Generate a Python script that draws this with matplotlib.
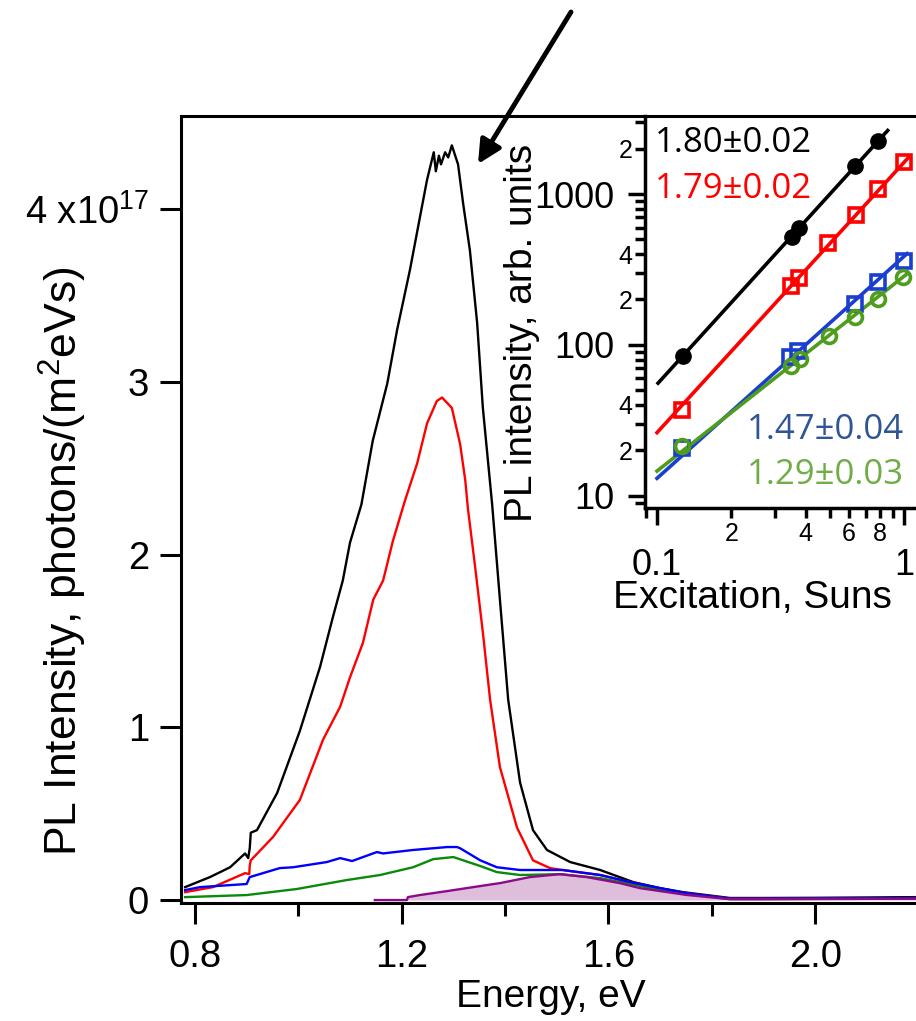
import matplotlib
matplotlib.use('Agg')
from matplotlib import pyplot as plt
from matplotlib.ticker import LogLocator, FuncFormatter, FixedLocator
import numpy as np

plt.rcParams['font.family'] = ['Liberation Sans', 'DejaVu Sans']
plt.rcParams['mathtext.fontset'] = 'custom'
plt.rcParams['mathtext.rm'] = 'Liberation Sans'
plt.rcParams['mathtext.it'] = 'Liberation Sans:italic'
plt.rcParams['mathtext.bf'] = 'Liberation Sans:bold'

# PL spectra, intensity in units of 1e17 photons/(m^2 eV s)
e_black = [0.781, 0.829, 0.868, 0.897, 0.903, 0.906, 0.908, 0.92, 0.959, 1.003, 1.042, 1.067,
           1.086, 1.10, 1.122, 1.144, 1.172, 1.191, 1.216, 1.235, 1.249, 1.262, 1.266, 1.272,
           1.276, 1.284, 1.29, 1.297, 1.309, 1.319, 1.332, 1.346, 1.357, 1.375, 1.39, 1.406,
           1.429, 1.454, 1.481, 1.526, 1.584, 1.648, 1.70, 1.744, 1.80, 1.835, 1.9, 2.0, 2.1, 2.2]
i_black = [0.075, 0.133, 0.19, 0.27, 0.243, 0.30, 0.39, 0.405, 0.62, 0.98, 1.35, 1.64,
           1.85, 2.07, 2.29, 2.66, 2.99, 3.30, 3.65, 3.95, 4.17, 4.33, 4.22, 4.31,
           4.26, 4.33, 4.30, 4.37, 4.26, 4.03, 3.76, 3.34, 2.85, 2.29, 1.74, 1.16,
           0.68, 0.405, 0.29, 0.22, 0.174, 0.104, 0.069, 0.046, 0.025, 0.012, 0.012, 0.013, 0.015, 0.017]

e_red = [0.781, 0.835, 0.897, 0.905, 0.906, 0.908, 0.951, 1.003, 1.048, 1.081, 1.10, 1.125,
         1.145, 1.164, 1.183, 1.206, 1.23, 1.249, 1.268, 1.278, 1.297, 1.313, 1.323, 1.328,
         1.342, 1.357, 1.371, 1.39, 1.423, 1.454, 1.487, 1.52, 1.584, 1.648, 1.70, 1.744,
         1.835, 1.9, 2.0, 2.1, 2.2]
i_red = [0.046, 0.075, 0.156, 0.15, 0.20, 0.23, 0.365, 0.58, 0.93, 1.12, 1.29, 1.49,
         1.74, 1.85, 2.08, 2.31, 2.53, 2.76, 2.89, 2.91, 2.85, 2.64, 2.43, 2.27,
         1.93, 1.55, 1.16, 0.77, 0.42, 0.23, 0.185, 0.17, 0.145, 0.1, 0.065, 0.042,
         0.008, 0.008, 0.009, 0.01, 0.012]

e_blue = [0.781, 0.81, 0.90, 0.904, 0.906, 0.964, 0.99, 1.055, 1.081, 1.104, 1.152, 1.164,
          1.222, 1.288, 1.307, 1.313, 1.352, 1.384, 1.429, 1.512, 1.584, 1.648, 1.70, 1.75,
          1.835, 1.9, 2.0, 2.1, 2.2]
i_blue = [0.058, 0.075, 0.093, 0.12, 0.133, 0.185, 0.19, 0.22, 0.243, 0.226, 0.278, 0.27,
          0.29, 0.307, 0.307, 0.30, 0.23, 0.19, 0.174, 0.174, 0.145, 0.1, 0.069, 0.04,
          0.008, 0.008, 0.009, 0.01, 0.011]

e_green = [0.781, 0.90, 0.997, 1.094, 1.158, 1.222, 1.261, 1.30, 1.352, 1.384, 1.429, 1.506,
           1.584, 1.648, 1.70, 1.75, 1.835, 1.9, 2.0, 2.1, 2.2]
i_green = [0.017, 0.029, 0.064, 0.116, 0.145, 0.19, 0.237, 0.249, 0.197, 0.162, 0.145, 0.15,
           0.127, 0.09, 0.058, 0.035, 0.006, 0.006, 0.007, 0.008, 0.009]

e_purple = [1.148, 1.21, 1.212, 1.235, 1.288, 1.365, 1.39, 1.448, 1.506, 1.558, 1.622, 1.661,
            1.70, 1.75, 1.835, 1.9, 2.0, 2.1, 2.2]
i_purple = [0.0, 0.0, 0.017, 0.029, 0.052, 0.087, 0.098, 0.133, 0.15, 0.133, 0.098, 0.069,
            0.052, 0.03, 0.005, 0.005, 0.006, 0.007, 0.008]

# Excitation dependence (inset)
suns_black = [0.127, 0.352, 0.376, 0.634, 0.785]
pl_black = [85, 519, 595, 1530, 2245]
suns_red = [0.126, 0.349, 0.376, 0.492, 0.64, 0.785, 1.0]
pl_red = [37, 246, 278, 473, 726, 1080, 1630]
suns_blue = [0.126, 0.347, 0.372, 0.634, 0.785, 1.0]
pl_blue = [20.8, 83, 91, 187, 261, 359]
suns_green = [0.126, 0.349, 0.38, 0.497, 0.634, 0.785, 0.99]
pl_green = [21.3, 72.6, 80.7, 115, 153, 202, 282]

slopes = [1.80, 1.79, 1.47, 1.29]
slope_errs = [0.02, 0.02, 0.04, 0.03]
fit_ranges = [(0.101, 0.86), (0.1, 1.05), (0.1, 1.03), (0.1, 1.03)]

W, H = 916, 1021
fig = plt.figure(figsize=(W / 100, H / 100), dpi=100)

# main spectrum axes
ax = fig.add_axes([181 / W, 1 - 903 / H, (W - 181) / W, (903 - 116) / H])
ax.plot(e_black, i_black, color='black', lw=1.7)
ax.plot(e_red, i_red, color='#ff0000', lw=1.7)
ax.fill_between(e_purple, i_purple, 0, color='#dfbedc', lw=0)
ax.plot(e_green, i_green, color='#0a8a0a', lw=1.7)
ax.plot(e_blue, i_blue, color='#0000ff', lw=1.7)
ax.plot(e_purple, i_purple, color='#8b0a8b', lw=1.7)

ax.set_xlim(0.773, 2.195)
ax.set_ylim(-0.017, 4.54)
ax.set_xticks([0.8, 1.2, 1.6, 2.0])
ax.set_xticklabels(['0.8', '1.2', '1.6', '2.0'])
ax.xaxis.set_minor_locator(FixedLocator([1.0, 1.4, 1.8]))
ax.set_yticks([0, 1, 2, 3, 4])
ax.set_yticklabels(['0', '1', '2', '3', '4 x10$^{17}$'])
ax.spines['right'].set_visible(False)
for s in ['left', 'bottom', 'top']:
    ax.spines[s].set_linewidth(2.2)
ax.tick_params(which='major', length=15, width=2.2, labelsize=27.5)
ax.tick_params(axis='x', which='major', pad=11)
ax.tick_params(axis='y', which='major', pad=8)
ax.tick_params(which='minor', length=9, width=2.2)

fig.text(551 / W, 1 - 997 / H, 'Energy, eV', fontsize=28, ha='center', va='center')
fig.text(63 / W, 1 - 561 / H, 'PL Intensity, photons/(m$^2$eVs)', fontsize=32,
         rotation=90, ha='center', va='center')

ax.annotate('', xy=(478, H - 164), xytext=(571, H - 12),
            xycoords='figure pixels', textcoords='figure pixels',
            arrowprops=dict(arrowstyle='-|>', color='black', lw=3.5,
                            mutation_scale=35, shrinkA=0, shrinkB=0),
            annotation_clip=False)

# inset: PL vs excitation, log-log
ins = fig.add_axes([645 / W, 1 - 508 / H, (W - 645) / W, (508 - 116) / H])
ins.patch.set_alpha(0)
ins.set_xscale('log')
ins.set_yscale('log')

fit_colors = ['black', '#ff0000', '#1a3fd0', '#4f9d1c']
point_sets = [(suns_black, pl_black), (suns_red, pl_red), (suns_blue, pl_blue), (suns_green, pl_green)]
markers = ['o', 's', 's', 'o']
for (sx, sy), k, c, m, (x0, x1) in zip(point_sets, slopes, fit_colors, markers, fit_ranges):
    # line of the stated slope through the points
    b = np.mean(np.log10(sy) - k * np.log10(sx))
    xf = np.array([x0, x1])
    ins.plot(xf, 10 ** (b + k * np.log10(xf)), color=c, lw=2.6, zorder=2)
    if c == 'black':
        ins.plot(sx, sy, 'o', color=c, ms=11, zorder=3)
    else:
        ins.plot(sx, sy, m, mfc='none', mec=c, mew=2.6, ms=10, zorder=3)

ins.set_xlim(0.0894, 1.12)
ins.set_ylim(8.3, 3290)
ins.spines['right'].set_visible(False)
ins.spines['top'].set_visible(False)
for s in ['left', 'bottom']:
    ins.spines[s].set_linewidth(2.5)

ins.xaxis.set_major_locator(LogLocator(base=10))
ins.xaxis.set_minor_locator(LogLocator(base=10, subs=np.arange(2, 10)))
ins.yaxis.set_major_locator(LogLocator(base=10))
ins.yaxis.set_minor_locator(LogLocator(base=10, subs=np.arange(2, 10)))


def major_fmt(v, pos):
    return '%g' % v


def minor_fmt_x(v, pos):
    d = int(round(v / 10 ** np.floor(np.log10(v) + 1e-9)))
    return str(d) if d in (2, 4, 6, 8) else ''


def minor_fmt_y(v, pos):
    d = int(round(v / 10 ** np.floor(np.log10(v) + 1e-9)))
    return str(d) if d in (2, 4) else ''


ins.xaxis.set_major_formatter(FuncFormatter(major_fmt))
ins.yaxis.set_major_formatter(FuncFormatter(major_fmt))
ins.xaxis.set_minor_formatter(FuncFormatter(minor_fmt_x))
ins.yaxis.set_minor_formatter(FuncFormatter(minor_fmt_y))
ins.tick_params(which='major', length=12, width=2.5, labelsize=26)
ins.tick_params(which='minor', length=7, width=2.5, labelsize=18)
ins.tick_params(axis='x', which='major', pad=17)
ins.tick_params(axis='x', which='minor', pad=3)
ins.tick_params(axis='y', which='major', pad=10)
ins.tick_params(axis='y', which='minor', pad=2)

fig.text(752 / W, 1 - 598 / H, 'Excitation, Suns', fontsize=28, ha='center', va='center')
fig.text(522 / W, 1 - 333 / H, 'PL intensity, arb. units', fontsize=28,
         rotation=90, ha='center', va='center')

# exponent labels
label_colors = ['black', '#ff0000', '#2f5597', '#70ad47']
label_pos = [(655, 143), (655, 189), (747, 430), (747, 475)]
for k, err, c, (px, py) in zip(slopes, slope_errs, label_colors, label_pos):
    fig.text(px / W, 1 - py / H, '%.2f\u00b1%.2f' % (k, err), color=c,
             fontsize=25, family=['Open Sans', 'DejaVu Sans'], ha='left', va='center')

fig.savefig('out.png', dpi=100)
